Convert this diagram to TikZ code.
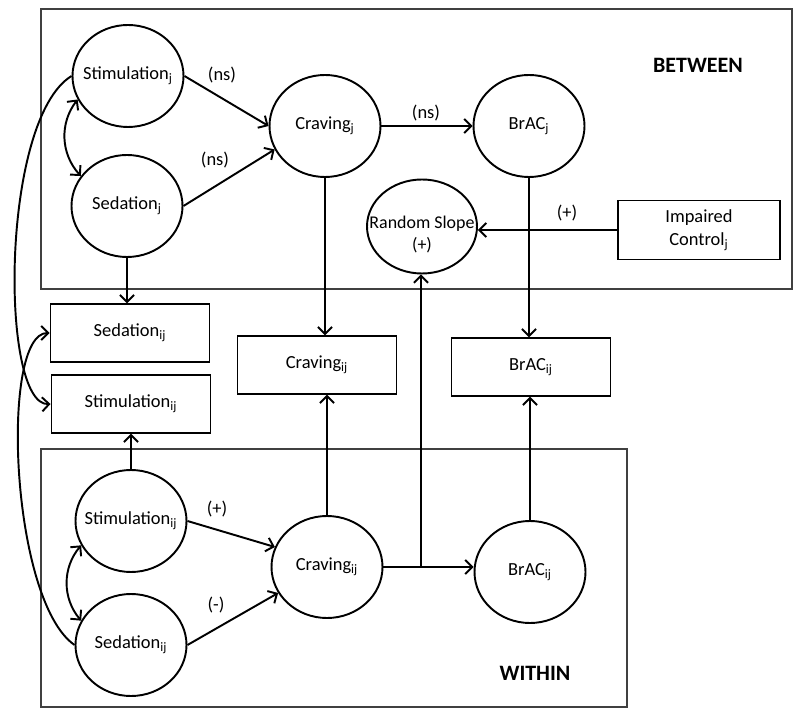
\documentclass[tikz,border=0pt]{standalone}
\usepackage{fontspec}
\setmainfont{Carlito}
\usetikzlibrary{shapes.geometric,arrows.meta}
\newcommand\zw[1]{\makebox[0pt]{#1}}
\begin{document}
\begin{tikzpicture}[
 circ/.style={ellipse,draw,line width=1.1pt,minimum width=2.22cm,minimum height=2.04cm,inner sep=0pt,font=\fontsize{10.5}{13}\selectfont,align=center},
 rbox/.style={rectangle,draw,line width=1.1pt,minimum width=3.18cm,minimum height=1.15cm,inner sep=0pt,font=\fontsize{10.5}{13}\selectfont,align=center},
 arr/.style={line width=1.1pt,-{Straight Barb[length=4pt,width=8pt]}},
 darr/.style={line width=1.1pt,{Straight Barb[length=4pt,width=8pt]}-{Straight Barb[length=4pt,width=8pt]}},
 lab/.style={font=\fontsize{10.5}{13}\selectfont},
 frame/.style={draw=black!75,line width=0.8pt},
 ttl/.style={font=\fontsize{12.5}{15}\selectfont\bfseries}
]
\useasboundingbox (0,0) rectangle (16,-14.36);
% frames
\draw[frame] (0.82,-0.18) rectangle (15.84,-5.78);
\draw[frame] (0.82,-8.98) rectangle (12.54,-14.14);
\node[ttl] (between) at (13.96,-1.30) {BETWEEN};
\node[ttl] (within) at (10.70,-13.46) {WITHIN};
% between nodes
\node[circ] (stimj) at (2.56,-1.52) {\zw{Stimulation\textsubscript{j}}};
\node[circ] (sedj) at (2.54,-4.12) {\zw{Sedation\textsubscript{j}}};
\node[circ] (cravj) at (6.50,-2.52) {\zw{Craving\textsubscript{j}}};
\node[circ] (bracj) at (10.58,-2.52) {\zw{BrAC\textsubscript{j}}};
\node[circ,minimum width=2.2cm,minimum height=1.88cm] (rslope) at (8.44,-4.53) {};
\node[font=\fontsize{10.2}{12.5}\selectfont,align=center,inner sep=0pt] (rslopetxt) at ([yshift=-0.17cm]rslope.center) {Random Slope\\(+)};
\node[rbox,minimum width=3.24cm,minimum height=1.18cm] (impc) at (13.98,-4.60) {Impaired\\Control\textsubscript{j}};
% middle boxes
\node[rbox] (sedijR) at (2.60,-6.66) {Sedation\textsubscript{ij}};
\node[rbox] (stimijR) at (2.62,-8.08) {Stimulation\textsubscript{ij}};
\node[rbox] (cravijR) at (6.34,-7.30) {Craving\textsubscript{ij}};
\node[rbox] (bracijR) at (10.62,-7.34) {BrAC\textsubscript{ij}};
% within nodes
\node[circ] (stimijC) at (2.62,-10.42) {\zw{Stimulation\textsubscript{ij}}};
\node[circ] (sedijC) at (2.62,-12.90) {\zw{Sedation\textsubscript{ij}}};
\node[circ] (cravijC) at (6.54,-11.34) {\zw{Craving\textsubscript{ij}}};
\node[circ] (bracijC) at (10.60,-11.44) {\zw{BrAC\textsubscript{ij}}};
\coordinate (junc) at (8.42,-11.34);
% labels
\node[lab] (ns1) at (4.44,-1.50) {(ns)};
\node[lab] (ns2) at (4.30,-3.20) {(ns)};
\node[lab] (ns3) at (8.52,-2.26) {(ns)};
\node[lab] (pimp) at (11.34,-4.26) {(+)};
\node[lab] (pstim) at (4.34,-10.18) {(+)};
\node[lab] (msed) at (4.32,-12.10) {(-)};
% between edges
\draw[arr] (stimj.east) -- (cravj.west);
\draw[arr] (sedj.east) -- (cravj.205);
\draw[arr] (cravj.east) -- (bracj.west);
\draw[darr] (stimj.205) to[bend right=40] (sedj.147);
\draw[arr] (sedj.south) -- (sedj.south |- sedijR.north);
\draw[arr] (cravj.south) -- (cravj.south |- cravijR.north);
\draw[arr] (bracj.south) -- (bracj.south |- bracijR.north);
\draw[arr] (impc.west) -- (impc.west -| rslope.east);
% within edges
\draw[arr] (stimijC.east) -- (cravijC.159);
\draw[arr] (sedijC.east) -- (cravijC.208);
\draw[darr] (stimijC.206) to[bend right=40] (sedijC.154);
\draw[arr] (stimijC.north) -- (stimijC.north |- stimijR.south);
\draw[arr] (cravijC.north) -- (cravijC.north |- cravijR.south);
\draw[arr] (bracijC.north) -- (bracijC.north |- bracijR.south);
\draw[arr] (cravijC.east) -- (bracijC.west |- cravijC.east);
\draw[arr] (junc) -- (junc |- rslope.south);
% long curves
\draw[arr] (stimj.west) .. controls (0,-2.4) and (0,-8.12) .. (stimijR.west);
\draw[arr] (sedijC.180) .. controls (0.2,-12.0) and (0,-6.66) .. (sedijR.west);
\end{tikzpicture}
\end{document}
